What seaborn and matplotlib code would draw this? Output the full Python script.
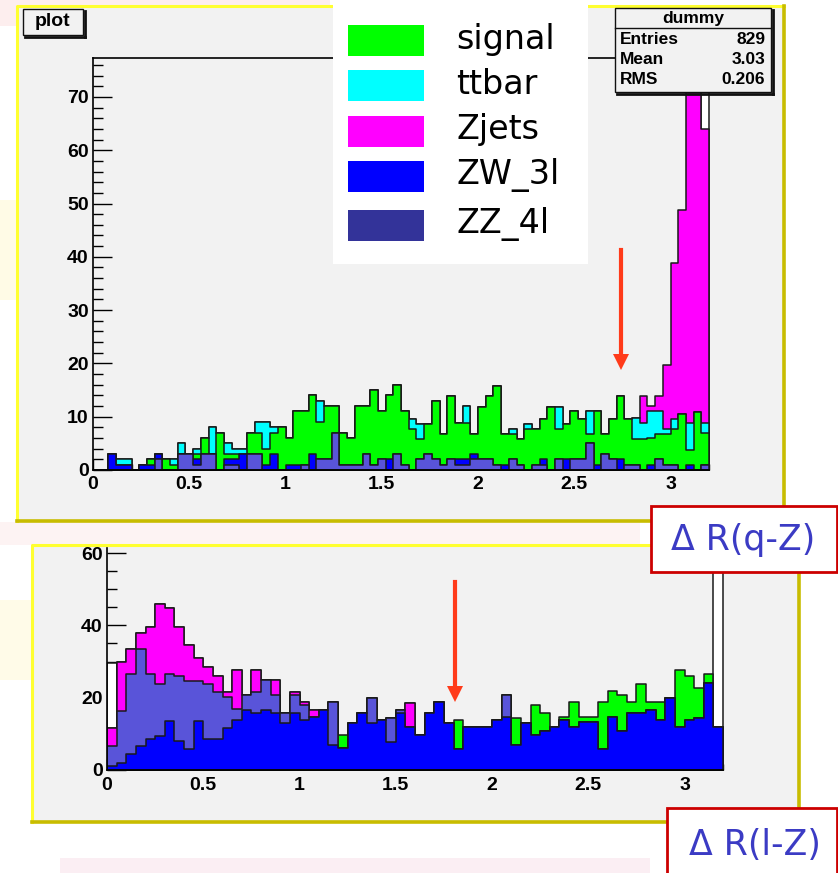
import numpy as np
import pandas as pd
import seaborn as sns
import matplotlib
matplotlib.use("Agg")
from matplotlib import pyplot as plt
from matplotlib.patches import Rectangle, Polygon
from matplotlib.lines import Line2D
from matplotlib.ticker import MultipleLocator, FuncFormatter

plt.rcParams['font.family'] = ['Liberation Sans', 'DejaVu Sans']

W, H = 838, 873

# ---- top plot: Delta R(q-Z), 80 bins of 0.04 (stack: ZZ bottom, ZW, signal, ttbar, Zjets)
top_edges = np.linspace(0, 3.2, 81)
top_zz = [0, 0, 0, 0, 0, 0, 0, 0, 2, 0,
          0, 3, 3, 1, 3, 3, 0, 1, 1, 0,
          3, 3, 0, 0, 0, 0, 0, 1, 0, 2,
          2, 7, 1, 1, 1, 3, 1, 2, 0, 3,
          1, 0, 2, 3, 2, 1, 2, 1, 1, 2,
          2, 2, 1, 0, 2, 1, 0, 1, 1, 0,
          2, 0, 2, 2, 5, 0, 3, 2, 0, 1,
          1, 0, 0, 2, 1, 1, 0, 0, 0, 1]
top_zw = [0, 0, 3, 1, 1, 0, 1, 1, 1, 0,
          0, 0, 0, 1, 0, 0, 0, 1, 1, 3,
          0, 0, 1, 3, 0, 1, 1, 0, 3, 0,
          0, 0, 0, 0, 0, 0, 0, 0, 2, 0,
          0, 0, 0, 0, 0, 0, 0, 1, 1, 1,
          0, 0, 0, 1, 0, 0, 0, 0, 1, 0,
          0, 2, 0, 0, 0, 1, 0, 0, 2, 0,
          0, 0, 1, 0, 0, 0, 0, 1, 0, 0]
top_sig = [0, 0, 0, 0, 0, 0, 0, 1, 0, 2,
           1, 0, 0, 1, 3, 0, 7, 1, 1, 0,
           4, 4, 3, 4, 8, 5, 10, 10, 11, 7,
           10, 5, 6, 5, 11, 9, 14, 9, 12, 13,
           10, 7.6, 3.8, 5.6, 11, 5.7, 11.8, 6.8, 6.8, 3.7,
           9.9, 11.8, 14.8, 5.7, 4.7, 4.8, 7.6, 6.6, 7.6, 11.9,
           5.6, 6.6, 9, 7.6, 1.7, 10, 3.7, 7.6, 11.8, 8.6,
           4.8, 5.8, 5, 4.7, 5.7, 6.6, 10.6, 2.8, 10.9, 5.9]
top_tt = [0, 0, 0, 1, 1, 0, 0, 0, 0, 0,
          1, 2, 0, 1, 0, 5, 0, 2, 1, 1,
          0, 2, 5, 1, 0, 0, 0, 0, 0, 4,
          0, 0, 0, 0, 0, 0, 0, 0, 0, 0,
          0, 2, 2.9, 0, 0, 0, 0, 0, 3.2, 0,
          0, 0, 0, 0, 0.9, 0, 1, 0, 0, 0,
          4.3, 0, 0, 0, 4.3, 0, 0, 0, 0, 0,
          3.9, 3, 5, 4.3, 0.9, 2, 0, 5, 0, 1.9]
top_zj = [0] * 70 + [0, 5, 1, 2.8, 12.1, 29.2, 38.2, 81, 79, 55.1]
top_dummy = [0] * 79 + [95]

# ---- bottom plot: Delta R(l-Z), 64 bins of 0.05 (stack: ZW bottom, ZZ, Zjets, signal)
bot_edges = np.linspace(0, 3.2, 65)
bot_zw = [1, 2, 4.5, 6.7, 8.5, 9.5, 13.6, 8, 5.7, 13.6,
          8.5, 8.5, 11.7, 13.8, 16.6, 15.7, 16.6, 15.7, 12.9, 15.7,
          13.8, 14.7, 16.6, 6.9, 6, 12.9, 15.7, 12.9, 13.8, 7.8,
          15.7, 12, 9.7, 15.7, 18.9, 12.9, 5.8, 11.8, 11.8, 11.8,
          13.8, 14.7, 6.9, 12.9, 9.7, 10.8, 11.8, 13.8, 11.8, 13.2,
          13.2, 5.8, 14.7, 10.8, 15.7, 15.7, 16.6, 13.8, 19.8, 11.8,
          13.8, 14.5, 24, 11.8]
bot_zz = [5.5, 14.4, 22, 26.7, 18, 14.3, 12.9, 18, 18.9, 11,
          15.2, 13.2, 8.6, 3.2, 4.1, 6, 8.3, 5, 2.8, 5,
          4.2, 0, 0, 12, 0, 0, 0, 6.9, 0, 6.5,
          0.9, 0, 0, 0, 0, 0, 0, 0, 0, 0,
          0, 6, 0, 0, 0, 0, 0, 0, 0, 0,
          0, 0, 0, 0, 0, 0, 0, 0, 0, 0,
          0, 0, 0, 0]
bot_zj = [5, 13.6, 7.1, 4.4, 13.1, 22.2, 18.4, 13.6, 10.1, 6.4,
          4.9, 4.3, 1.4, 10.6, 0, 5.9, 0, 4.2, 0, 1,
          0.7, 1.9, 0, 0, 0, 0, 0, 0, 0, 0,
          0, 6.4] + [0] * 32
bot_sig = [0] * 24 + [3.7] + [0] * 11 + [8, 0, 0, 0,
           0, 0, 7.6, 0, 8.3, 4.9, 0, 0.9, 7.1, 1.5,
           1.5, 13.1, 7.1, 9.9, 3.2, 8, 2.3, 5.1, 0, 15.8,
           12.2, 8.1, 2.5, 0]
bot_dummy = [29.5] + [0] * 62 + [70]

legend_names = ['signal', 'ttbar', 'Zjets', 'ZW_3l', 'ZZ_4l']
legend_colors = ['#00ff00', '#00ffff', '#ff00ff', '#0000ff', '#333399']
c_sig, c_tt, c_zj, c_zw, c_zz = '#00ff00', '#00ffff', '#ff00ff', '#0000ff', '#5954d9'

stats_rows = [('Entries', '829'), ('Mean', '3.03'), ('RMS', '0.206')]


def fx(x):
    return x / W


def fy(y):
    return 1 - y / H


fig = plt.figure(figsize=(W / 100, H / 100), dpi=100)
fig.patch.set_facecolor('white')


def box(x0, y0, x1, y1, z=-5, **kw):
    fig.add_artist(Rectangle((fx(x0), fy(y1)), (x1 - x0) / W, (y1 - y0) / H,
                             transform=fig.transFigure, zorder=z, **kw))


def line(xs, ys, z=-4, **kw):
    fig.add_artist(Line2D([fx(v) for v in xs], [fy(v) for v in ys],
                          transform=fig.transFigure, zorder=z, **kw))


# faint slide background bits
for (a, b, c, d, col) in [(0, 0, 330, 26, '#fdeeee'), (0, 228, 17, 234, '#e8e8f8'),
                          (0, 200, 17, 300, '#fffbe6'), (0, 522, 640, 545, '#fdf3f3'),
                          (60, 858, 650, 873, '#fbeef3'), (0, 600, 32, 680, '#fffbe8')]:
    box(a, b, c, d, z=-10, facecolor=col, edgecolor='none')

# ROOT canvases
for (x0, y0, x1, y1) in [(17, 6, 784, 521), (32, 545, 799, 822)]:
    box(x0, y0, x1, y1, facecolor='#f2f2f2', edgecolor='none')
    line([x0, x0, x1], [y1, y0, y0], color='#ffff30', lw=2.2)
    line([x0, x1, x1], [y1, y1, y0], color='#c8bc00', lw=2.6)


def draw_layers(ax, edges, layers):
    centers = (edges[:-1] + edges[1:]) / 2
    for vals, col in layers:
        df = pd.DataFrame({'x': centers, 'w': np.asarray(vals, float)})
        sns.histplot(data=df, x='x', weights='w', bins=list(edges), element='step',
                     fill=True, color=col, alpha=1, edgecolor='#1a1a1a',
                     linewidth=1.1, ax=ax)


def style_axis(ax, ymax, ymajor, yminor, xpad):
    ax.set_facecolor('#f2f2f2')
    ax.set_xlim(0, 3.2)
    ax.set_ylim(0, ymax)
    ax.set_xlabel('')
    ax.set_ylabel('')
    ax.set_axisbelow(True)
    ax.xaxis.set_major_locator(MultipleLocator(0.5))
    ax.xaxis.set_minor_locator(MultipleLocator(0.1))
    ax.yaxis.set_major_locator(MultipleLocator(ymajor))
    ax.yaxis.set_minor_locator(MultipleLocator(yminor))
    ax.xaxis.set_major_formatter(FuncFormatter(lambda v, p: '%g' % v))
    ax.tick_params(axis='y', which='major', direction='in', length=13.5, width=1, pad=3)
    ax.tick_params(axis='y', which='minor', direction='in', length=7, width=1)
    ax.tick_params(axis='x', which='major', direction='in', length=8, width=1, pad=xpad)
    ax.tick_params(axis='x', which='minor', direction='in', length=4, width=1)
    for lab in ax.get_xticklabels() + ax.get_yticklabels():
        lab.set_fontweight('bold')
        lab.set_fontsize(14)
    ax.spines['right'].set_visible(False)
    for s in ['left', 'bottom', 'top']:
        ax.spines[s].set_linewidth(1.2)


# ---- top plot
ax1 = fig.add_axes([fx(93), fy(470), 616 / W, 412 / H])
t1 = np.array(top_zz, float)
t2 = t1 + np.array(top_zw)
t3 = t2 + np.array(top_sig)
t4 = t3 + np.array(top_tt)
t5 = t4 + np.array(top_zj)
draw_layers(ax1, top_edges, [(top_dummy, 'white'), (t5, c_zj), (t4, c_tt),
                             (t3, c_sig), (t2, c_zw), (t1, c_zz)])
style_axis(ax1, 77.3, 10, 2, 4)

# ---- bottom plot
ax2 = fig.add_axes([fx(107), fy(770), 616 / W, 222 / H])
b1 = np.array(bot_zw, float)
b2 = b1 + np.array(bot_zz)
b3 = b2 + np.array(bot_zj)
b4 = b3 + np.array(bot_sig)
draw_layers(ax2, bot_edges, [(bot_dummy, 'white'), (b4, c_sig), (b3, c_zj),
                             (b2, c_zz), (b1, c_zw)])
style_axis(ax2, 61.4, 20, 5, 5)
ax2.spines['top'].set_visible(False)

# ---- "plot" title box
line([25, 85], [37, 37], z=5, color='#111111', lw=2)
line([85, 85], [11, 37], z=5, color='#111111', lw=2)
box(23, 9, 83, 35, z=6, facecolor='#f2f2f2', edgecolor='#111111', lw=1)
fig.text(fx(53), fy(22), 'plot', ha='center', va='center', fontsize=14,
         fontweight='bold', zorder=7)

# ---- stats box
line([617, 773], [94, 94], z=5, color='#111111', lw=2)
line([773, 773], [10, 94], z=5, color='#111111', lw=2)
box(615, 8, 771, 92, z=6, facecolor='#f2f2f2', edgecolor='#111111', lw=1)
line([615, 771], [28, 28], z=7, color='#111111', lw=1)
fig.text(fx(693), fy(18), 'dummy', ha='center', va='center', fontsize=12.5,
         fontweight='bold', zorder=8)
for i, (k, v) in enumerate(stats_rows):
    yy = 39 + 20 * i
    fig.text(fx(620), fy(yy), k, ha='left', va='center', fontsize=12.5,
             fontweight='bold', zorder=8)
    fig.text(fx(765), fy(yy), v, ha='right', va='center', fontsize=12.5,
             fontweight='bold', zorder=8)

# ---- legend
box(333, 0, 588, 264, z=6, facecolor='white', edgecolor='none')
leg_tops = [25, 70, 116, 161, 210]
for name, col, yt in zip(legend_names, legend_colors, leg_tops):
    box(348, yt, 424, yt + 31, z=7, facecolor=col, edgecolor='none')
    fig.text(fx(456), fy(yt + 14), name, ha='left', va='center', fontsize=24,
             family='DejaVu Sans', zorder=8)

# ---- red arrows
arrow_col = '#ff3b1a'
for (xa, y0, y1) in [(621, 250, 370), (455, 582, 702)]:
    line([xa, xa], [y0, y1 - 12], z=9, color=arrow_col, lw=3)
    fig.add_artist(Polygon([[fx(xa - 8), fy(y1 - 16)], [fx(xa + 8), fy(y1 - 16)],
                            [fx(xa), fy(y1)]], closed=True, transform=fig.transFigure,
                           facecolor=arrow_col, edgecolor='none', zorder=9))

# ---- variable labels
for (x0, y0, x1, y1, txt) in [(651, 506, 837, 572, '\u0394 R(q-Z)'),
                              (667, 808, 837, 880, '\u0394 R(l-Z)')]:
    box(x0, y0, x1, y1, z=10, facecolor='white', edgecolor='#cc0000', lw=2)
for (xc, yc, txt) in [(743, 540, '\u0394 R(q-Z)'), (755, 845, '\u0394 R(l-Z)')]:
    fig.text(fx(xc), fy(yc), txt, ha='center', va='center', fontsize=25,
             color='#3b3bc4', family='DejaVu Sans', zorder=11)

fig.savefig('out.png', dpi=100)
